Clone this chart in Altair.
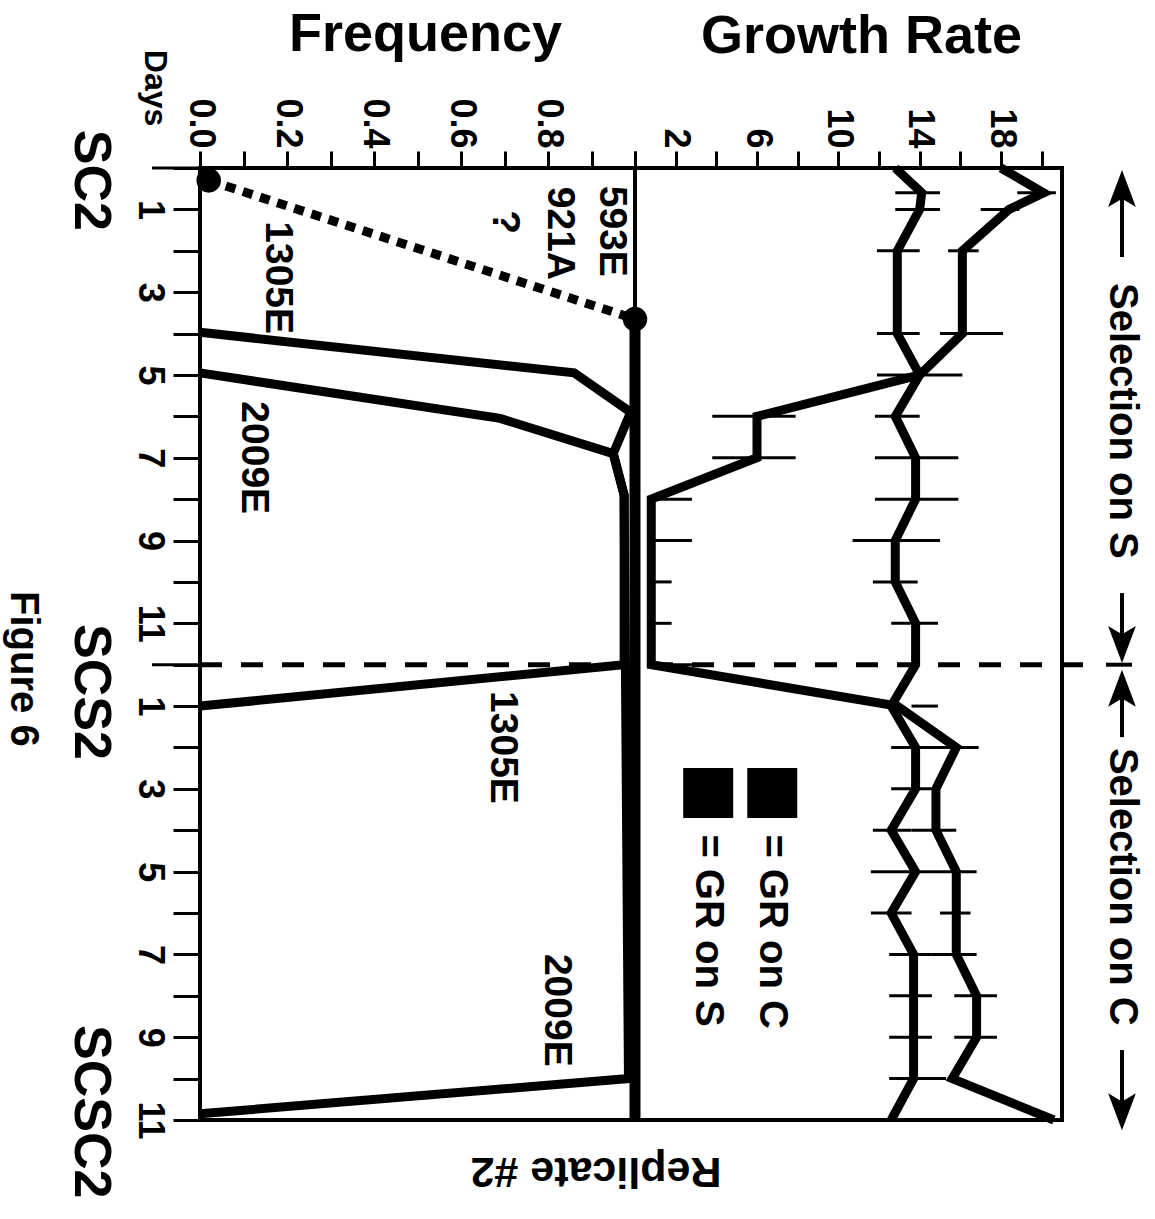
import altair as alt
import pandas as pd

FONT = "Liberation Sans"

# ---------------- data ----------------
# Day index t: 0-12 = SC2 (days 0-12), 12-23 = SCS2 days 0-11 (SCSC2 at 23)
day_ticks = list(range(0, 24))
freq_ticks = [0.0, 0.1, 0.2, 0.3, 0.4, 0.5, 0.6, 0.7, 0.8, 0.9, 1.0]
gr_ticks = [0, 2, 4, 6, 8, 10, 12, 14, 16, 18, 20]

# mutation frequencies
m593_dot_days = [0.3, 3.65]
m593_dot_freq = [0.02, 1.0]
m593_days = [3.65, 23.0]
m593_freq = [1.0, 1.0]
m1305_days = [3.97, 4.95, 5.9, 6.9, 7.9, 12.0, 13.0]
m1305_freq = [0.0, 0.86, 0.99, 0.95, 0.975, 0.975, 0.0]
m2009_days = [4.95, 6.05, 6.9, 7.9, 22.0, 22.85]
m2009_freq = [0.0, 0.69, 0.95, 0.975, 0.985, 0.0]

# growth rates
gr_days = [0, 0.6, 1, 2, 4, 5, 6, 7, 8, 9, 10, 11, 12, 13, 14, 15, 16, 17, 18, 19, 20, 21, 22, 23]
gr_on_c = [18.0, 20.1, 18.4, 16.1, 16.1, 14.0, 6.0, 6.0, 0.8, 0.8, 0.8, 0.8, 0.8, 12.9,
           15.8, 14.8, 14.8, 15.8, 15.8, 15.8, 16.8, 16.8, 15.6, 20.6]
gr_on_s = [12.8, 14.1, 14.0, 12.9, 12.9, 14.0, 12.8, 13.8, 13.8, 12.8, 12.8, 13.8, 13.8, 12.6,
           13.8, 13.8, 12.6, 13.8, 12.6, 13.7, 13.7, 13.7, 13.7, 12.6]

# error bars
eb_c_days = [0.6, 1, 2, 4, 5, 6, 7, 8, 9, 10, 11, 12, 14, 16, 17, 18, 19, 20, 21]
eb_c_lo = [18.8, 17.0, 15.4, 15.0, 14.2, 3.8, 3.8, 0.7, 0.7, 0.7, 0.7, 0.7, 14.9, 13.6, 14.8, 15.0, 14.6, 15.7, 15.7]
eb_c_hi = [20.7, 18.9, 16.9, 18.1, 16.1, 7.9, 7.9, 2.8, 2.8, 1.8, 1.8, 2.8, 16.9, 15.8, 16.8, 16.5, 16.8, 17.8, 17.8]
eb_s_days = [0.6, 1, 2, 4, 5, 6, 7, 8, 9, 10, 11, 13, 14, 15, 16, 17, 18, 19, 20, 21, 22]
eb_s_lo = [12.8, 12.8, 11.9, 11.9, 11.9, 11.8, 11.8, 11.8, 10.7, 11.7, 12.6, 13.6, 12.6, 12.6, 11.7, 11.6, 11.6, 12.5, 12.5, 12.5, 12.5]
eb_s_hi = [15.0, 15.0, 14.0, 14.0, 14.0, 14.0, 15.9, 15.9, 15.0, 13.9, 14.9, 14.9, 14.9, 14.6, 13.6, 14.8, 13.6, 14.6, 14.6, 14.6, 15.3]

# in-plot labels (frequency units, day index)
lab_text = ["593E", "921A", "?", "1305E", "2009E", "1305E", "2009E"]
lab_freq = [0.947, 0.828, 0.70, 0.179, 0.124, 0.697, 0.821]
lab_days = [1.53, 1.58, 1.31, 2.65, 7.0, 14.0, 20.35]

legend_text = ["= GR on S", "= GR on C"]
legend_gr = [3.6, 6.75]

# ---------------- scales / axes ----------------
W, H = 862, 952
yscale = alt.Scale(domain=[0, 23], reverse=True, nice=False, zero=False)
fscale = alt.Scale(domain=[0, 1], range=[0, 435], nice=False, zero=False)
gscale = alt.Scale(domain=[0, 21], range=[435, 862], nice=False, zero=False)

common_axis = dict(labelFont=FONT, labelFontWeight="bold", labelFontSize=36, labelColor="black",
                   tickColor="black", tickWidth=3, domain=False, grid=False, labelFlush=False,
                   labelOverlap=False, labelAngle=90)

day_axis = alt.Axis(orient="left", values=day_ticks,
                    labelExpr="datum.value % 2 == 1 ? '' + (datum.value > 12 ? datum.value - 12 : datum.value) : ''",
                    tickSize=27, labelPadding=7, labelAlign="center", labelBaseline="top",
                    title=None, **common_axis)
freq_axis = alt.Axis(orient="top", values=freq_ticks,
                     labelExpr="(round(datum.value * 10) % 2 == 0 && datum.value < 0.95) ? format(datum.value, '.1f') : ''",
                     tickSize=17, labelPadding=3, labelAlign="right", labelBaseline="middle",
                     title="Frequency", titleFont=FONT, titleFontSize=54, titleFontWeight="bold",
                     titleColor="black", titleAngle=0, titleAlign="center", titleBaseline="alphabetic",
                     titleX=225, titleY=-118, **common_axis)
gr_axis = alt.Axis(orient="top", values=gr_ticks,
                   labelExpr="datum.value % 4 == 2 ? '' + datum.value : ''",
                   tickSize=17, labelPadding=3, labelAlign="right", labelBaseline="middle",
                   title="Growth Rate", titleFont=FONT, titleFontSize=54, titleFontWeight="bold",
                   titleColor="black", titleAngle=0, titleAlign="center", titleBaseline="alphabetic",
                   titleX=661, titleY=-116, **common_axis)


def Y():
    return alt.Y("t:Q", scale=yscale, axis=day_axis)


def line_df(name, days, vals):
    return pd.DataFrame({"series": name, "i": list(range(len(days))), "t": days, "v": vals})


# ---------------- layers ----------------
layers = []

# panel divider (carries growth-rate axis)
div_df = pd.DataFrame({"t": [0], "t2": [23], "g": [0]})
layers.append(alt.Chart(div_df).mark_rule(color="black", strokeWidth=4).encode(
    x=alt.X("g:Q", scale=gscale, axis=gr_axis), y=Y(), y2="t2:Q"))

# section boundary (dashed) and long ticks
layers.append(alt.Chart(pd.DataFrame({"t": [12]})).mark_rule(
    color="black", strokeWidth=5, strokeDash=[22, 19]).encode(
    x=alt.value(0), x2=alt.value(885), y=Y()))
layers.append(alt.Chart(pd.DataFrame({"t": [0, 12]})).mark_rule(
    color="black", strokeWidth=3).encode(x=alt.value(-48), x2=alt.value(0), y=Y()))
layers.append(alt.Chart(pd.DataFrame({"t": [12]})).mark_rule(
    color="black", strokeWidth=4).encode(x=alt.value(906), x2=alt.value(932), y=Y()))

# frequency lines
freq_df = pd.concat([line_df("1305E", m1305_days, m1305_freq),
                     line_df("2009E", m2009_days, m2009_freq)])
layers.append(alt.Chart(freq_df).mark_line(color="black", strokeWidth=9).encode(
    x=alt.X("v:Q", scale=fscale, axis=freq_axis), y=Y(),
    detail="series:N", order="i:Q"))
layers.append(alt.Chart(line_df("593E", m593_days, m593_freq)).mark_line(
    color="black", strokeWidth=11).encode(
    x=alt.X("v:Q", scale=fscale, axis=None), y=Y(), order="i:Q"))
layers.append(alt.Chart(line_df("593E dot", m593_dot_days, m593_dot_freq)).mark_line(
    color="black", strokeWidth=9, strokeDash=[10, 8]).encode(
    x=alt.X("v:Q", scale=fscale, axis=None), y=Y(), order="i:Q"))
layers.append(alt.Chart(line_df("593E dot", m593_dot_days, m593_dot_freq)).mark_circle(
    color="black", size=600, opacity=1).encode(
    x=alt.X("v:Q", scale=fscale, axis=None), y=Y()))

# growth-rate lines
gr_df = pd.concat([line_df("GR on C", gr_days, gr_on_c), line_df("GR on S", gr_days, gr_on_s)])
layers.append(alt.Chart(gr_df).mark_line(color="black", strokeWidth=9).encode(
    x=alt.X("v:Q", scale=gscale, axis=None), y=Y(), detail="series:N", order="i:Q"))
eb_df = pd.concat([
    pd.DataFrame({"t": eb_c_days, "lo": eb_c_lo, "hi": eb_c_hi}),
    pd.DataFrame({"t": eb_s_days, "lo": eb_s_lo, "hi": eb_s_hi})])
layers.append(alt.Chart(eb_df).mark_rule(color="black", strokeWidth=3).encode(
    x=alt.X("lo:Q", scale=gscale, axis=None), x2="hi:Q", y=Y()))

# in-plot labels
lab_df = pd.DataFrame({"t": lab_days, "f": lab_freq, "label": lab_text})
layers.append(alt.Chart(lab_df).mark_text(
    angle=90, align="center", baseline="middle", font=FONT, fontWeight="bold",
    fontSize=39, color="black").encode(
    x=alt.X("f:Q", scale=fscale, axis=None), y=Y(), text="label:N"))

# legend
sq_df = pd.DataFrame({"t": [15.1, 15.1], "g": legend_gr})
layers.append(alt.Chart(sq_df).mark_square(color="black", size=2500, opacity=1, filled=True).encode(
    x=alt.X("g:Q", scale=gscale, axis=None), y=Y()))
lt_df = pd.DataFrame({"t": [16.1, 16.1], "g": legend_gr, "label": legend_text})
layers.append(alt.Chart(lt_df).mark_text(
    angle=90, align="left", baseline="middle", font=FONT, fontWeight="bold",
    fontSize=40, color="black").encode(
    x=alt.X("g:Q", scale=gscale, axis=None), y=Y(), text="label:N"))


def margin_text(text, px, t, size, angle=90, align="center", baseline="middle"):
    return alt.Chart(pd.DataFrame({"t": [t], "label": [text]})).mark_text(
        angle=angle, align=align, baseline=baseline, font=FONT, fontWeight="bold",
        fontSize=size, color="black").encode(x=alt.value(px), y=Y(), text="label:N")


layers += [
    margin_text("Days", -45, -1.93, 32),
    margin_text("SC2", -109, 0.3, 52),
    margin_text("SCS2", -109, 12.66, 52),
    margin_text("SCSC2", -109, 22.8, 52),
    margin_text("Figure 6", -177, 12.1, 40),
    margin_text("Replicate #2", 396, 24.23, 43, angle=180),
    margin_text("Selection on S", 922, 2.78, 40, align="left"),
    margin_text("Selection on C", 922, 14.01, 40, align="left"),
]

# side arrows
shaft_df = pd.DataFrame({"t": [0.6, 10.27, 12.8, 21.31], "t2": [2.15, 11.3, 13.75, 22.6]})
layers.append(alt.Chart(shaft_df).mark_rule(color="black", strokeWidth=4).encode(
    x=alt.value(922), y=Y(), y2="t2:Q"))
up_shape = "M0,-1L0.75,1L0,0.55L-0.75,1Z"
down_shape = "M0,1L0.75,-1L0,-0.55L-0.75,-1Z"
layers.append(alt.Chart(pd.DataFrame({"t": [0.495, 12.57]})).mark_point(
    shape=up_shape, size=1369, filled=True, color="black", opacity=1).encode(
    x=alt.value(922), y=Y()))
layers.append(alt.Chart(pd.DataFrame({"t": [11.51, 22.8]})).mark_point(
    shape=down_shape, size=1369, filled=True, color="black", opacity=1).encode(
    x=alt.value(922), y=Y()))

chart = alt.layer(*layers).resolve_scale(x="independent").properties(
    width=W, height=H,
    padding={"left": 200, "top": 168, "right": 93, "bottom": 99},
    autosize=alt.AutoSizeParams(type="none"),
    background="white",
).configure_view(stroke="black", strokeWidth=4)

chart.save("out.html", embed_options={"renderer": "svg", "actions": False})
